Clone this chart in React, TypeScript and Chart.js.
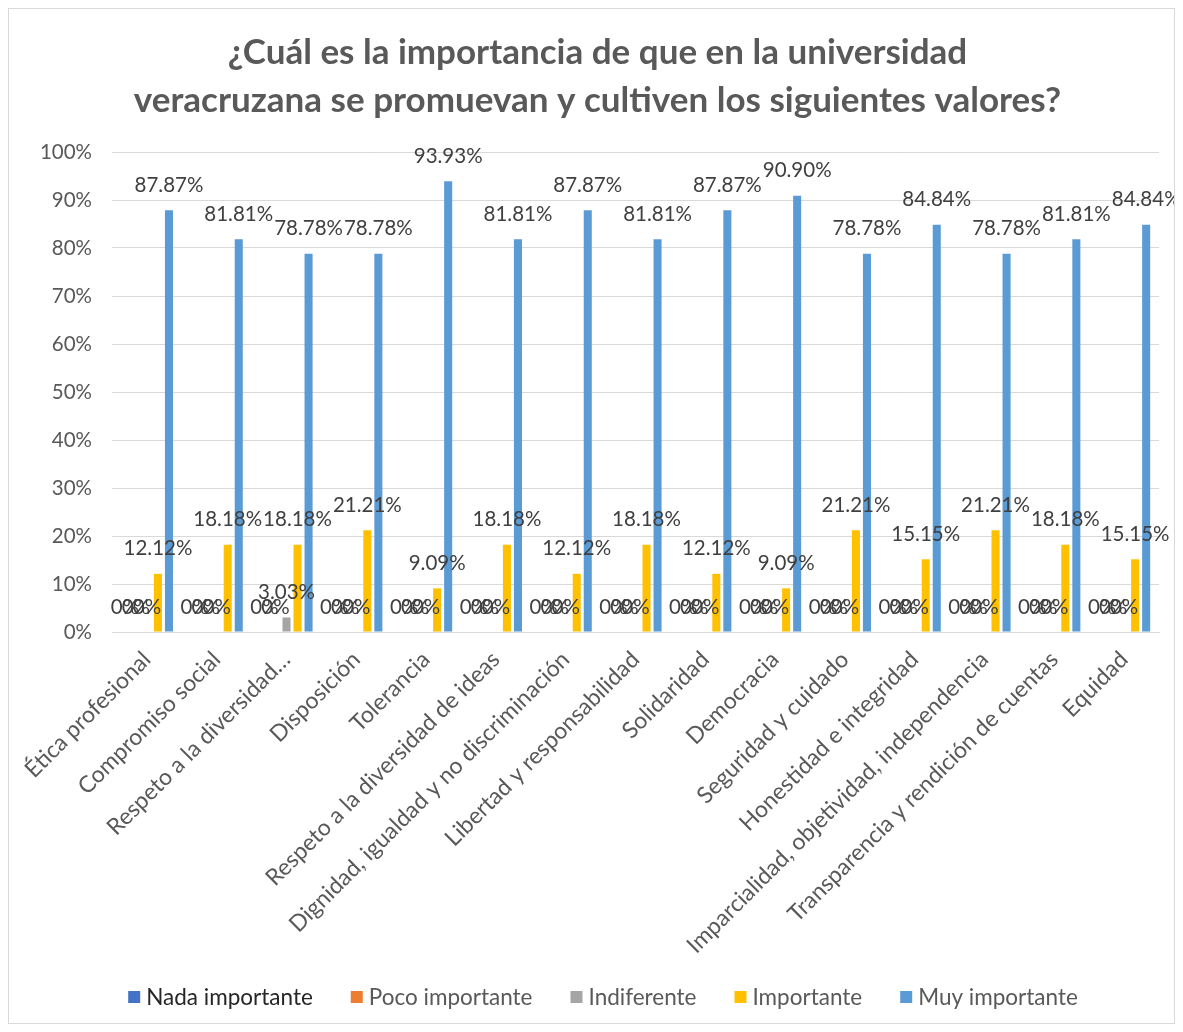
import React, { useEffect, useRef } from "react";
import { Chart, registerables } from "chart.js";

Chart.register(...registerables);

const categories = [
  "Ética profesional",
  "Compromiso social",
  "Respeto a la diversidad…",
  "Disposición",
  "Tolerancia",
  "Respeto a la diversidad de ideas",
  "Dignidad, igualdad y no discriminación",
  "Libertad y responsabilidad",
  "Solidaridad",
  "Democracia",
  "Seguridad y cuidado",
  "Honestidad e integridad",
  "Imparcialidad, objetividad, independencia",
  "Transparencia y rendición de cuentas",
  "Equidad",
];

const nadaImportante = [0, 0, 0, 0, 0, 0, 0, 0, 0, 0, 0, 0, 0, 0, 0];
const pocoImportante = [0, 0, 0, 0, 0, 0, 0, 0, 0, 0, 0, 0, 0, 0, 0];
const indiferente = [0, 0, 3.03, 0, 0, 0, 0, 0, 0, 0, 0, 0, 0, 0, 0];
const importante = [12.12, 18.18, 18.18, 21.21, 9.09, 18.18, 12.12, 18.18, 12.12, 9.09, 21.21, 15.15, 21.21, 18.18, 15.15];
const muyImportante = [87.87, 81.81, 78.78, 78.78, 93.93, 81.81, 87.87, 81.81, 87.87, 90.9, 78.78, 84.84, 78.78, 81.81, 84.84];

const seriesNames = ["Nada importante", "Poco importante", "Indiferente", "Importante", "Muy importante"];
const seriesColors = ["#4472C4", "#ED7D31", "#A5A5A5", "#FFC000", "#5B9BD5"];
const legendTextColors = ["#262626", "#595959", "#595959", "#595959", "#595959"];
const titleLines = [
  "¿Cuál es la importancia de que en la universidad",
  "veracruzana se promuevan y cultiven los siguientes valores?",
];

const FONT = "Lato, 'Open Sans', sans-serif";

const labelPlugin = {
  id: "barLabels",
  afterDatasetsDraw(chart: any) {
    const ctx = chart.ctx;
    ctx.save();
    ctx.font = `20.5px ${FONT}`;
    ctx.fillStyle = "#404040";
    ctx.textAlign = "center";
    ctx.textBaseline = "middle";
    chart.data.datasets.forEach((ds: any, i: number) => {
      const meta = chart.getDatasetMeta(i);
      meta.data.forEach((el: any, j: number) => {
        const v = ds.data[j];
        const txt = v === 0 ? "0%" : v.toFixed(2) + "%";
        ctx.fillText(txt, el.x, el.y - 25);
      });
    });
    ctx.restore();
  },
};

const legendPlugin = {
  id: "customLegend",
  afterDraw(chart: any) {
    const ctx = chart.ctx;
    ctx.save();
    ctx.font = `22.5px ${FONT}`;
    ctx.textBaseline = "middle";
    ctx.textAlign = "left";
    const box = 12;
    const gapBoxText = 6;
    const gapItems = 38;
    const widths = seriesNames.map((n) => ctx.measureText(n).width);
    const total = widths.reduce((a, w) => a + box + gapBoxText + w, 0) + gapItems * (seriesNames.length - 1);
    let x = 594 - total / 2;
    const y = 988;
    seriesNames.forEach((n, i) => {
      ctx.fillStyle = seriesColors[i];
      ctx.fillRect(x, y - box / 2, box, box);
      ctx.fillStyle = legendTextColors[i];
      ctx.fillText(n, x + box + gapBoxText, y + 1);
      x += box + gapBoxText + widths[i] + gapItems;
    });
    ctx.restore();
  },
};

export default function App() {
  const ref = useRef<HTMLCanvasElement>(null);
  useEffect(() => {
    if (!ref.current) return;
    const allSeries = [nadaImportante, pocoImportante, indiferente, importante, muyImportante];
    const chart = new Chart(ref.current, {
      type: "bar",
      data: {
        labels: categories,
        datasets: allSeries.map((d, i) => ({
          label: seriesNames[i],
          data: d,
          backgroundColor: seriesColors[i],
          borderWidth: 0,
          categoryPercentage: 0.79,
          barPercentage: 0.73,
        })),
      },
      options: {
        responsive: false,
        animation: false,
        layout: { padding: { left: 12, right: 0, top: 0, bottom: 61 } },
        plugins: {
          tooltip: { enabled: false },
          title: {
            display: true,
            text: titleLines,
            color: "#595959",
            font: { family: FONT, size: 35, weight: "bold", lineHeight: 48 / 35 },
            padding: { top: 20, bottom: 27 },
          },
          legend: { display: false },
        },
        scales: {
          x: {
            grid: { display: false },
            border: { display: true, color: "#d9d9d9" },
            ticks: {
              color: "#595959",
              font: { family: FONT, size: 23 },
              maxRotation: 45,
              minRotation: 45,
              autoSkip: false,
              padding: 6,
            },
            afterFit: (s: any) => {
              s.height = 330;
              s.paddingLeft = 0;
              s.paddingRight = 15;
            },
          },
          y: {
            min: 0,
            max: 100,
            grid: { color: "#d9d9d9", drawTicks: false },
            border: { display: false },
            ticks: {
              stepSize: 10,
              color: "#595959",
              font: { family: FONT, size: 20.5 },
              padding: 20,
              callback: (v: any) => v + "%",
            },
            afterFit: (s: any) => {
              s.width = 91;
              s.paddingTop = 0;
              s.paddingBottom = 0;
            },
          },
        },
      },
      plugins: [labelPlugin, legendPlugin],
    });
    return () => chart.destroy();
  }, []);
  return (
    <div style={{ width: 1165, height: 1014, border: "1px solid #d9d9d9", background: "#fff" }}>
      <canvas ref={ref} width={1165} height={1014} style={{ display: "block" }} />
    </div>
  );
}
